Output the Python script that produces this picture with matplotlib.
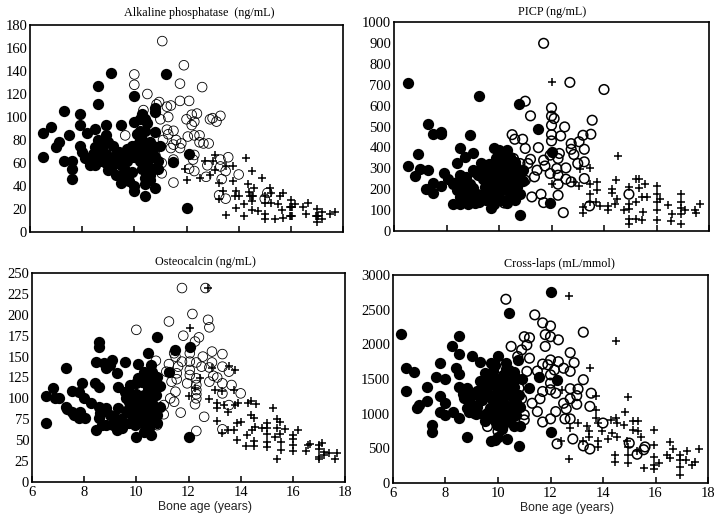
import matplotlib
matplotlib.use("Agg")
import matplotlib.pyplot as plt

# --- alkaline phosphatase
alp_filled_x = [6.5,6.8,6.5,7.0,7.1,7.3,7.3,7.5,7.6,7.6,7.6,7.9,7.9,7.9,8.0,8.1,8.2,8.4,8.5,8.6,8.6,8.6,8.6,8.6,8.9,8.8,8.9,9.0,9.1,9.0,9.2,9.3,9.5,9.4,9.4,9.5,9.6,9.7,9.8,9.9,10,10,10.0,10.0,10.0,10,10.2,10.2,10.3,10.4,10.4,10.5,10.5,10.5,10.8,10.8,10.8,10.8,10.8,10.9,11.0,11.5,11.2,12,12.1,10.3,10.3,10.6,10.6,10.2,9.8,9.2,8.3,8.5,8.7,
                8.4,8.7,8.7,8.9,9.1,9.0,9.3,9.5,9.6,9.7,9.8,9.9,10.1,10.1,10.2,10.3,10.4,10.4,10.5,10.6,10.7,10.7,10.9,10.4,10.2,10.4,10.7,10.4,10.6,9.1,9.5,9.7,8.5,8.9]
alp_filled_y = [86,91,65,74,78,105,62,84,55,46,62,103,93,75,70,64,86,60,90,127,111,80,72,66,93,75,60,54,138,78,75,50,93,63,70,43,56,72,44,52,70,65,96,118,40,36,80,88,103,31,42,95,75,60,108,104,87,38,65,55,75,61,137,21,68,70,55,50,70,62,65,65,58,58,62,
                68,78,68,68,62,65,60,58,64,62,72,75,76,85,72,80,88,65,50,78,55,68,62,55,98,98,75,47,45,55,48,50,74,84]
alp_open_x = [11.07,11.9,10.0,10.0,11.75,12.6,10.5,11.75,12.1,10.85,10.95,11.25,11.4,10.35,11.3,11.0,12,12.2,12.4,12.3,12.2,12.9,13,13.15,13.3,9.65,11.25,11.3,11.5,12.05,12.3,12.5,11.6,11.1,11.5,11.8,11.75,11.4,12.5,12.65,12.85,11.5,11.05,11.05,11.5,12.3,12.25,12.1,12.3,12.8,12.75,13.3,13.6,13.3,13.35,13.5,14,13.25,13.5,15,15.1,10.8]
alp_open_y = [166,145,137,128,129,126,120,114,114,111,113,109,110,106,100,98,98,102,103,96,93,98,99,96,101,84,89,85,88,83,84,84,80,80,76,77,73,73,78,77,77,63,60,51,43,67,63,55,53,58,48,63,65,57,46,53,50,32,29,29,34,67]
alp_plus_x = [14.3,14.5,14.9,13.1,12.7,13,12,11.95,12.5,12.9,13.1,13.25,13.5,13.8,13.8,13.4,13.25,13.5,13.9,13.85,14,13.9,14.2,14.2,14.35,14.6,14.4,14.5,14.5,14.5,14.75,15,15,15,15,15.2,15.25,15.25,15.4,15.5,15.6,15.7,15.7,16,16,16,16.15,16.45,16.65,16.6,17,17,17,17.2,17.2,17.5,17.7,15.65,14.45,14.55,15.97,16.03,15.97,16.03,16.97,17.03]
alp_plus_y = [64,53,47,67,62,62,45,55,47,50,54,43,57,57,44,36,29,15,36,31,31,21,14,24,42,38,35,31,27,19,18,31,25,16,11,38,34,25,11,24,31,34,12,28,22,14,24,22,25,16,20,14,9,17,11,16,17,19,31,31,22,22,14,14,14,14]

# --- PICP
picp_filled_x = [6.55,6.55,6.9,6.8,7,7.3,7.3,7.5,7.8,7.8,7.2,7.5,7.5,7.8,7.9,8.05,8.4,8.5,8.7,9,8.9,9.25,8.25,8.5,8.8,9.25,9.7,8.25,8.5,8.75,8.5,8.5,8.75,9,9.1,9.3,9.45,9.5,9.8,9.8,9.8,9.8,10,10.3,10,10,10.3,10.3,10.3,10.3,10.55,10.55,10.6,10.8,10.8,10.8,10.75,11.5,11.95,12,8.4,8.65,8.9,9.15,9.4,9.5,9.85,9.85,10.1,10.1,10.1,10.4,10.4,10.4,10.65,10.65,10.65,9.8,
                 8.6,8.6,8.8,8.4,9.0,9.2,9.4,9.6,9.6,9.6,9.8,10,10,10,10.2,10.2,10.3,10.5,10.5,10.5,10.7,10.1,9.9,8.9,9.1,9.4,9.7,10.6,10.9,10.9,9.0]
picp_filled_y = [709,311,367,264,299,291,511,462,474,463,200,230,182,214,278,251,323,395,355,375,458,645,131,128,131,139,112,227,267,259,195,163,203,163,283,323,211,275,395,323,243,163,387,387,275,195,323,259,195,147,275,211,147,179,275,75,607,490,136,379,195,227,227,179,179,147,291,211,339,243,147,355,227,163,307,243,179,131,
                 175,215,190,235,205,270,300,250,320,195,280,310,360,165,220,280,135,180,300,250,210,375,350,150,135,250,170,330,290,240,290]
picp_open_x = [11.7,12.7,14,11,11.2,12,12,12.1,12,12.5,13.55,12,12.35,12,10.5,10.6,10.9,11,11.5,12.75,13.05,13.2,13.5,12.75,13.25,12.85,13,13.25,12.55,12.3,12.25,11.95,11.2,11.1,11.7,11.75,12.2,11.95,12.25,12.25,12.55,12.75,13.25,11.35,11.25,11.6,11.7,12.25,12.45,13.45,14.95,10.2,10.55,10.8,11,11.45]
picp_open_y = [898,711,677,621,551,589,550,538,506,498,530,461,455,431,461,439,439,395,399,418,427,458,463,391,391,366,323,331,302,371,347,363,343,323,339,311,299,275,267,224,248,235,251,259,163,176,136,171,88,120,176,134,347,323,243,291]
picp_plus_x = [12,14.55,14.45,13.45,13.1,12.85,13.05,12,13.75,13.45,13.45,13.75,13.45,13.2,13.2,13.7,13.85,14.15,14.15,14.3,14.3,14.5,14.4,14.75,14.95,15.2,15.35,15.35,15.55,14.95,14.95,15.2,14.95,14.95,15.2,15.45,15.65,15.5,15.45,16,16,16,16,16,16.15,16.45,16.6,16.55,16.95,16.95,16.95,16.95,16.95,17.45,17.65,17.5,17.1]
picp_plus_y = [711,359,246,302,299,235,216,227,235,227,179,195,139,115,88,139,118,120,99,203,182,155,131,102,211,248,251,206,227,131,107,139,59,32,59,163,163,91,51,216,179,139,102,54,152,123,83,46,179,139,112,83,32,102,131,88,99]

# --- osteocalcin
oc_filled_x = [6.55,6.55,6.8,6.9,7.05,7.3,7.3,7.35,7.55,7.55,7.6,7.8,7.9,7.8,7.85,8,8.05,8.25,8.4,8.55,8.45,8.55,8.55,8.55,8.45,8.55,8.75,8.85,9.05,9,8.85,8.85,9.25,9.3,9.55,9.3,9.25,9.45,9.2,9.55,9.7,9.75,10.05,10.05,10,10,10.45,10.3,10.55,10.45,10.8,10.8,11.25,11.5,12.05,12,9.65,9.85,9.95,10.15,10.15,10.35,10.35,10.35,10.55,10.55,10.75,10.8,10.8,9.9,9.9,9.9,9.9,10.55,10.7,10.6,
               9.6,9.7,9.6,9.8,10,10,10.1,10.2,10.2,10.3,10.3,10.4,10.4,10.45,10.5,10.5,10.6,10.7,10.65,10.9,10.9,9,8.7,9.1,8.6,10.2,10.6,9.4]
oc_filled_y = [103,70,113,100,101,136,90,87,109,84,80,108,118,76,84,100,77,94,118,114,143,167,161,90,62,76,142,136,146,140,88,68,130,114,143,88,62,64,76,108,96,116,141,125,118,54,154,132,140,112,173,126,132,158,162,54,84,80,68,92,76,96,84,68,56,88,104,80,70,100,92,84,74,100,116,132,
               85,70,100,105,88,105,100,84,70,104,60,76,90,125,65,80,95,110,75,90,115,80,68,68,82,120,120,75]
oc_open_x = [11.75,12.65,12.15,11.25,10,12.75,12.8,11.8,12.4,12.25,12.9,13.3,12.55,11.45,12.05,11.5,10.75,11.75,12.05,11.25,12.3,12.9,11.6,13.3,12.5,12.8,12.05,13.55,11.15,12.05,12.95,13.1,11.55,12.3,12.8,11.35,11.55,11.95,12.3,13.3,13.65,10.55,11.5,12.3,12.3,13.3,14,12.3,11.3,12.25,11.45,13.55,11.05,11.05,11.7,12.6,13.3,12.3,10.8]
oc_open_y = [232,232,201,192,182,194,185,175,173,168,156,153,150,154,154,150,145,144,144,141,143,143,138,138,138,137,134,132,132,128,127,125,130,124,120,120,123,118,116,118,116,121,108,110,105,106,106,100,100,93,96,92,92,81,83,78,63,61,68]
oc_plus_x = [12.75,12.05,12,12.25,12.45,12.9,13.55,13.8,13,13.3,13.75,12.8,13.1,13.1,13.35,13.5,13.8,13.9,14.3,14.4,14.6,13.1,13.3,13.5,13.75,13.85,13.85,14,14.25,14.2,14.4,14.5,14.55,14.45,14.5,14.5,15,15,14.8,15,15,15,15.25,15.4,15.5,15.4,15.7,15.3,15.5,15.55,15.55,15.4,16,16,16,16,16.2,16.5,16.6,17,17.1,17,17,17,17.2,17.2,17.4,17.7,17.6,16.65]
oc_plus_y = [232,184,103,112,124,136,139,134,110,109,110,99,94,88,92,84,92,94,95,97,93,73,59,62,62,50,70,72,56,43,80,76,66,62,49,43,70,64,64,58,48,42,89,75,72,65,63,54,58,48,38,28,56,51,44,37,62,37,44,44,47,40,30,27,36,32,35,35,27,45]

# --- cross-laps
cl_filled_x = [6.3,6.5,6.8,6.5,6.9,7,7.3,7.3,7.65,7.8,7.5,7.5,7.8,7.8,8,8,8,8.25,8.4,8.5,8.5,8.5,8.5,8.5,8.3,8.8,8.8,8.7,8.8,9,9.3,9,9.1,9.3,9.45,9.5,9.5,9.3,9.75,9.75,9.9,10,9.8,10,10.3,10.35,10.4,10.8,10.75,12,12,11.2,11.55,12.25,9.7,9.7,9.95,9.95,9.95,9.95,10.2,10.2,10.2,10.2,10.45,10.45,10.45,10.45,10.7,10.7,10.7,10.85,10.2,10.4,9.2,9.5,9.7,
               9.0,9.2,9.4,9.4,9.6,9.6,9.6,9.8,9.85,9.85,10.05,10.05,10.05,10.1,10.3,10.3,10.3,10.3,10.5,10.55,10.6,10.6,10.6,10.6,10.85,10.9,10.8,8.65,8.9,8.9,9.15,9.9,9.5,10.15]
cl_filled_y = [2145,1655,1600,1330,1080,1120,1390,1185,1535,1730,840,730,1250,1030,1500,1150,985,1970,1655,2125,1860,1575,1390,935,1030,660,1370,1225,1080,1825,1740,1130,1010,1475,985,1585,890,1225,1730,600,625,1835,1610,670,1730,635,2450,540,1775,2760,730,1370,1525,1490,1270,1080,1370,1175,985,840,1560,1370,1175,985,1465,1270,1080,890,1510,1175,985,815,840,1630,1320,1390,1415,
               1270,1100,1190,1300,1010,1260,1470,1185,1500,930,1290,1080,900,1490,1270,1075,900,1650,1370,985,1175,1390,1600,820,1090,1500,1270,1280,1180,1020,1000,1700,1450,780]
cl_open_x = [10.3,11.4,11.7,12,13.25,11,11.2,11.8,12,12.3,11.1,10.5,11.8,10.9,12.75,10.75,11.2,12,12.3,12.9,11.7,11.9,11.1,11.5,12.75,12.15,12.5,12,13.25,10.8,12,12.75,13.05,13.55,11.7,12,12.2,13,12.75,10.9,11.6,11.3,12.5,13,13.5,12.6,11.5,12.2,11,11,12,12.55,12.75,11.7,14,9.6,12.25,12.85,13.25,13.5,15,15.3,15.55,15.6,10]
cl_open_y = [2650,2425,2310,2265,2175,2110,2095,2140,2110,2065,1990,1970,1970,1920,1880,1825,1800,1775,1750,1735,1715,1705,1610,1615,1610,1630,1655,1560,1490,1370,1440,1360,1355,1295,1320,1345,1295,1260,1215,1215,1215,1150,1150,1135,1105,1070,1030,1030,985,910,925,925,925,880,865,815,565,635,535,490,575,415,480,520,745]
cl_plus_x = [12.7,14.5,13.5,13.75,14.95,14.85,13.75,13.75,13.8,12.45,12.75,13.05,13.4,12.7,12.4,13.45,13.45,13.25,13.8,13.8,13.95,14.2,14.3,14.5,14.55,14.8,14.35,14.55,14.45,14.45,14.9,14.95,14.95,15.15,15.35,15.15,15.35,15.45,14.95,15.3,15.55,15.95,15.95,15.95,15.95,15.95,16.15,16.45,16.55,16.65,16.55,16.95,16.95,16.95,16.95,17.2,17.15,17.4,17.5,17.65]
cl_plus_y = [2690,2050,1655,1250,1235,1030,1055,935,865,1345,790,865,815,345,600,745,660,600,610,515,745,640,910,935,865,840,720,660,410,310,600,410,290,890,890,770,755,670,515,455,215,760,550,370,265,200,290,410,590,495,360,410,335,225,120,455,335,255,310,495]

x_ticks = [6, 8, 10, 12, 14, 16, 18]
alp_ticks = [0, 20, 40, 60, 80, 100, 120, 140, 160, 180]
picp_ticks = [0, 100, 200, 300, 400, 500, 600, 700, 800, 900, 1000]
oc_ticks = [0, 25, 50, 75, 100, 125, 150, 175, 200, 225, 250]
cl_ticks = [0, 500, 1000, 1500, 2000, 2500, 3000]

W, H = 720, 519
fig = plt.figure(figsize=(W / 100, H / 100), dpi=100)
plt.rcParams['font.family'] = 'Liberation Serif'


def panel(box, title, title_x, title_y, ticks, filled, opened, plus, open_lw, bottom):
    left, right, top, low = box
    ax = fig.add_axes([left / W, 1 - low / H, (right - left) / W, (low - top) / H])
    ax.scatter(opened[0], opened[1], s=48, facecolors='none', edgecolors='black', linewidths=open_lw, zorder=2)
    ax.scatter(plus[0], plus[1], s=26, marker='+', color='black', linewidths=1.1, zorder=3)
    ax.scatter(filled[0], filled[1], s=66, color='black', linewidths=0, zorder=4)
    ax.set_xlim(6, 18)
    ax.set_ylim(ticks[0], ticks[-1])
    ax.set_xticks(x_ticks)
    ax.set_yticks(ticks)
    ax.tick_params(axis='x', direction='in', length=4, width=1.1, labelsize=10.5, labelbottom=bottom, pad=3)
    ax.tick_params(axis='y', length=0, labelsize=10.5, pad=2)
    for s in ax.spines.values():
        s.set_linewidth(1.2)
    for lab in ax.get_xticklabels() + ax.get_yticklabels():
        lab.set_family('Liberation Serif')
    fig.text(title_x / W, 1 - title_y / H, title, ha='center', va='center', fontsize=8.7, family='Liberation Serif')
    if bottom:
        fig.text(((left + right) / 2 + 16) / W, 1 - (low + 25) / H, 'Bone age (years)', ha='center', va='center',
                 fontsize=8.8, family='Liberation Sans', color='#222222')
    return ax


panel((30, 343, 25, 232), 'Alkaline phosphatase  (ng/mL)', 199, 13, alp_ticks,
      (alp_filled_x, alp_filled_y), (alp_open_x, alp_open_y), (alp_plus_x, alp_plus_y), 0.6, False)
panel((394, 709, 22, 231), 'PICP (ng/mL)', 552, 12, picp_ticks,
      (picp_filled_x, picp_filled_y), (picp_open_x, picp_open_y), (picp_plus_x, picp_plus_y), 1.1, False)
panel((32, 345, 273, 482), 'Osteocalcin (ng/mL)', 205, 262, oc_ticks,
      (oc_filled_x, oc_filled_y), (oc_open_x, oc_open_y), (oc_plus_x, oc_plus_y), 0.6, True)
panel((393, 708, 275, 483), 'Cross-laps (mL/mmol)', 559, 264, cl_ticks,
      (cl_filled_x, cl_filled_y), (cl_open_x, cl_open_y), (cl_plus_x, cl_plus_y), 1.1, True)

fig.savefig('out.png', dpi=100)
